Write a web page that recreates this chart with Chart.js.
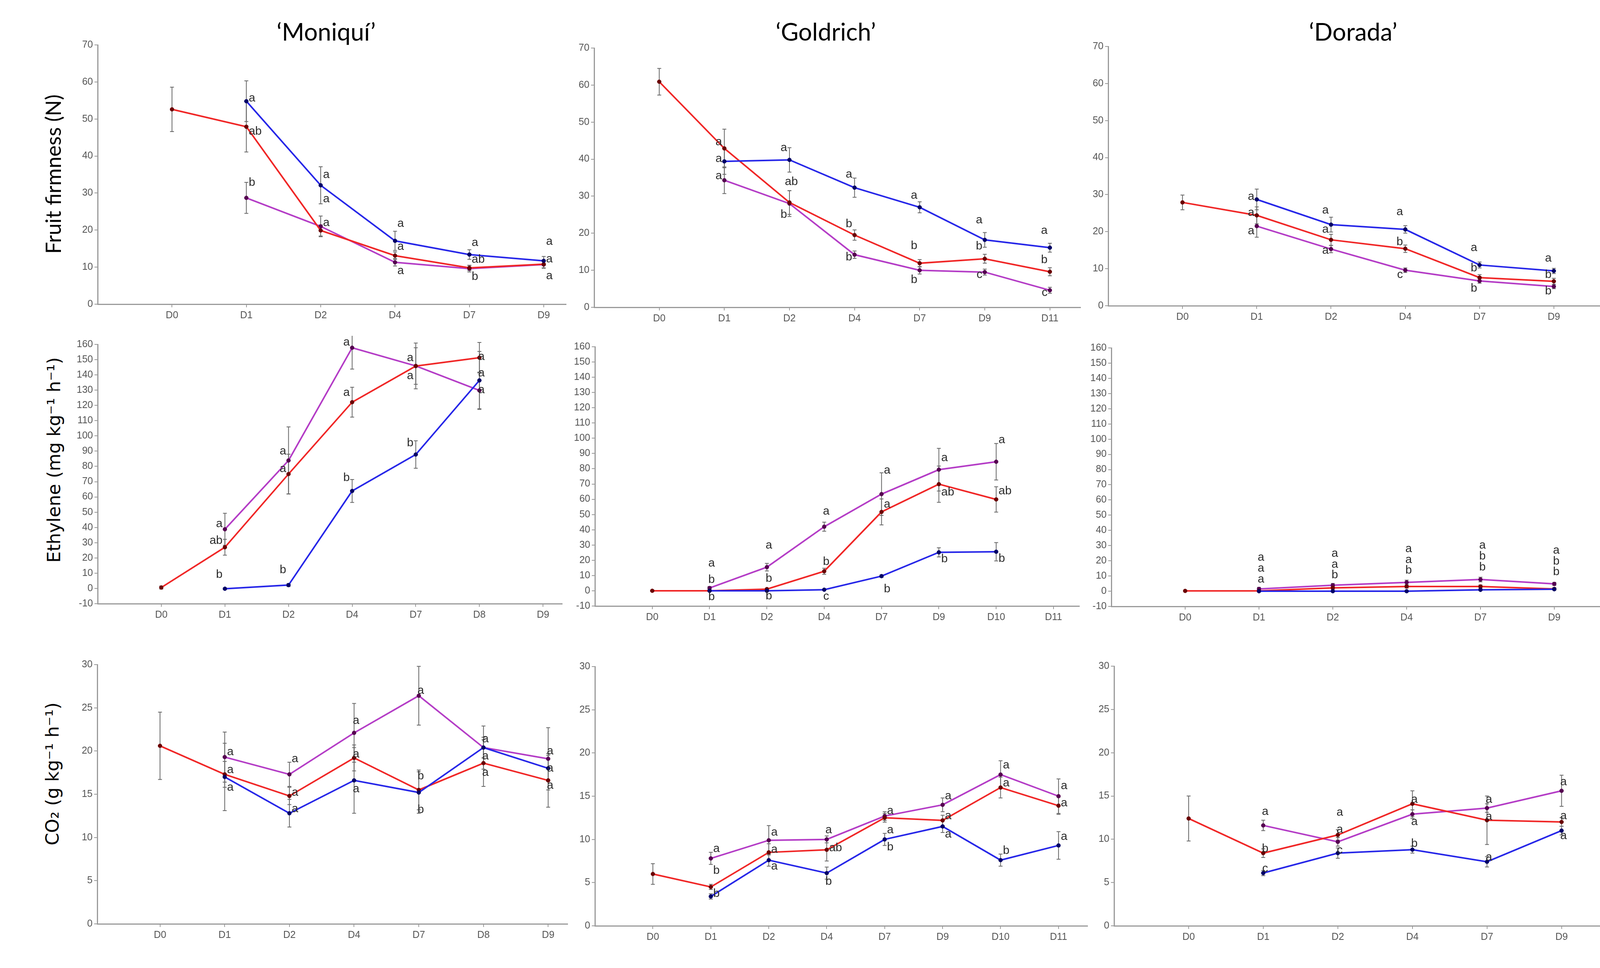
<!DOCTYPE html>
<html><head><meta charset="utf-8">
<script src="https://cdn.jsdelivr.net/npm/chart.js@4.4.1/dist/chart.umd.min.js"></script>
<style>
html,body{margin:0;padding:0;background:#fff;}
#wrap{position:relative;width:4253px;height:2479px;background:#fff;overflow:hidden;}
#wrap canvas{position:absolute;}
.ttl{position:absolute;transform:translate(-50%,-50%);font-family:Lato,'Open Sans',sans-serif;font-size:62px;color:#000;white-space:nowrap;line-height:1;}
.ytl{position:absolute;transform:translate(-50%,-50%) rotate(-90deg);white-space:nowrap;color:#000;line-height:1;}
</style></head><body><div id="wrap"></div>
<script>
// ---------------- DATA ----------------
const cultivars = ['\u2018Moniqu\u00ed\u2019', '\u2018Goldrich\u2019', '\u2018Dorada\u2019'];
const rowTitles = ['Fruit firmness (N)', 'Ethylene (mg kg\u207B\u00B9 h\u207B\u00B9)', 'CO\u2082 (g kg\u207B\u00B9 h\u207B\u00B9)'];

// Fruit firmness
const firmMoniquiDays = ['D0','D1','D2','D4','D7','D9'];
const firmMoniquiRed = [52.6, 47.9, 19.9, 13.1, 9.8, 10.8];
const firmMoniquiRedSE = [6.0, 6.8, 1.5, 1.0, 0.7, 1.0];
const firmMoniquiBlue = [null, 54.8, 32.1, 17.1, 13.4, 11.7];
const firmMoniquiBlueSE = [null, 5.5, 5.0, 2.6, 1.3, 1.2];
const firmMoniquiPurple = [null, 28.7, 21.0, 11.3, 9.6, 10.7];
const firmMoniquiPurpleSE = [null, 4.2, 2.8, 1.0, 0.9, 1.0];
const firmMoniquiLetters = [[1,55.6,'a','r'],[1,46.6,'ab','r'],[1,32.8,'b','r'],[2,34.9,'a','r'],[2,28.4,'a','r'],[2,22.0,'a','r'],[3,21.7,'a','r'],[3,15.5,'a','r'],[3,9.0,'a','r'],[4,16.6,'a','r'],[4,12.0,'ab','r'],[4,7.4,'b','r'],[5,16.9,'a','r'],[5,12.2,'a','r'],[5,7.6,'a','r']];

const firmGoldrichDays = ['D0','D1','D2','D4','D7','D9','D11'];
const firmGoldrichRed = [60.9, 42.9, 28.3, 19.5, 11.9, 13.1, 9.6];
const firmGoldrichRedSE = [3.6, 5.2, 3.2, 1.4, 1.0, 1.2, 1.1];
const firmGoldrichBlue = [null, 39.4, 39.8, 32.3, 27.0, 18.2, 16.1];
const firmGoldrichBlueSE = [null, 3.5, 3.3, 2.6, 1.5, 2.0, 1.2];
const firmGoldrichPurple = [null, 34.3, 28.0, 14.2, 10.0, 9.5, 4.6];
const firmGoldrichPurpleSE = [null, 3.6, 3.5, 1.0, 1.0, 0.8, 0.8];
const firmGoldrichLetters = [[1,44.6,'a','l'],[1,40.1,'a','l'],[1,35.4,'a','l'],[2,43.0,'a','l'],[2,33.9,'ab','c'],[2,25.0,'b','l'],[3,35.9,'a','l'],[3,22.5,'b','l'],[3,13.5,'b','l'],[4,30.2,'a','l'],[4,16.6,'b','l'],[4,7.4,'b','l'],[5,23.5,'a','l'],[5,16.5,'b','l'],[5,8.8,'c','l'],[6,20.7,'a','l'],[6,12.8,'b','l'],[6,3.9,'c','l']];

const firmDoradaDays = ['D0','D1','D2','D4','D7','D9'];
const firmDoradaRed = [27.9, 24.4, 17.8, 15.4, 7.6, 6.6];
const firmDoradaRedSE = [2.0, 2.3, 1.5, 1.0, 0.8, 0.8];
const firmDoradaBlue = [null, 28.7, 21.9, 20.6, 11.0, 9.4];
const firmDoradaBlueSE = [null, 2.8, 2.0, 1.0, 0.8, 0.7];
const firmDoradaPurple = [null, 21.5, 15.3, 9.6, 6.7, 5.2];
const firmDoradaPurpleSE = [null, 3.0, 1.0, 0.6, 0.6, 0.6];
const firmDoradaLetters = [[1,29.4,'a','l'],[1,25.1,'a','l'],[1,20.2,'a','l'],[2,25.8,'a','l'],[2,20.6,'a','l'],[2,14.9,'a','l'],[3,25.3,'a','l'],[3,17.2,'b','l'],[3,8.4,'c','l'],[4,15.6,'a','l'],[4,10.2,'b','l'],[4,4.7,'b','l'],[5,12.8,'a','l'],[5,8.4,'b','l'],[5,3.9,'b','l']];

// Ethylene
const ethMoniquiDays = ['D0','D1','D2','D4','D7','D8','D9'];
const ethMoniquiRed = [0.6, 27.0, 75.0, 122.1, 145.8, 151.3, null];
const ethMoniquiRedSE = [1.0, 5.2, 13.0, 9.8, 12.0, 10.0, null];
const ethMoniquiBlue = [null, -0.2, 2.2, 63.9, 87.8, 136.4, null];
const ethMoniquiBlueSE = [null, 0.5, 1.0, 7.5, 9.0, 19.0, null];
const ethMoniquiPurple = [null, 38.8, 83.9, 157.8, 145.9, 129.8, null];
const ethMoniquiPurpleSE = [null, 10.5, 22.0, 14.0, 15.0, 12.0, null];
const ethMoniquiLetters = [[1,42.3,'a','l'],[1,31.2,'ab','l'],[1,9.0,'b','l'],[2,89.8,'a','l'],[2,78.4,'a','l'],[2,12.0,'b','l'],[3,161.3,'a','l'],[3,128.4,'a','l'],[3,72.4,'b','l'],[4,151.0,'a','l'],[4,139.4,'a','l'],[4,95.4,'b','l'],[5,152.0,'a','c'],[5,141.0,'a','c'],[5,130.0,'a','c']];

const ethGoldrichDays = ['D0','D1','D2','D4','D7','D9','D10','D11'];
const ethGoldrichRed = [0.0, 0.0, 1.1, 12.8, 51.7, 69.9, 59.9, null];
const ethGoldrichRedSE = [0.5, 0.5, 0.5, 2.0, 8.5, 11.9, 8.3, null];
const ethGoldrichBlue = [null, 0.0, 0.0, 0.7, 9.6, 25.2, 25.6, null];
const ethGoldrichBlueSE = [null, 0.3, 0.3, 0.3, 0.8, 3.0, 6.0, null];
const ethGoldrichPurple = [null, 1.8, 15.5, 42.0, 63.4, 79.4, 84.6, null];
const ethGoldrichPurpleSE = [null, 1.0, 2.5, 3.0, 14.0, 14.0, 12.0, null];
const ethGoldrichLetters = [[1,18.1,'a','c'],[1,7.3,'b','c'],[1,-4.1,'b','c'],[2,29.8,'a','c'],[2,7.9,'b','c'],[2,-3.5,'b','c'],[3,52.0,'a','c'],[3,19.1,'b','c'],[3,-3.7,'c','c'],[4,78.8,'a','r'],[4,56.6,'a','r'],[4,1.1,'b','r'],[5,87.0,'a','r'],[5,64.6,'ab','r'],[5,20.7,'b','r'],[6,98.9,'a','r'],[6,65.3,'ab','r'],[6,21.1,'b','r']];

const ethDoradaDays = ['D0','D1','D2','D4','D7','D9'];
const ethDoradaRed = [0.2, 0.2, 2.2, 3.1, 3.1, 1.5];
const ethDoradaRedSE = [0.5, 0.5, 1.0, 1.0, 1.0, 0.8];
const ethDoradaBlue = [null, 0.0, 0.0, 0.0, 0.9, 1.3];
const ethDoradaBlueSE = [null, 0.3, 0.3, 0.3, 0.5, 0.5];
const ethDoradaPurple = [null, 1.5, 3.9, 5.8, 7.7, 4.8];
const ethDoradaPurpleSE = [null, 1.0, 1.2, 1.5, 1.5, 1.0];
const ethDoradaLetters = [[1,22.1,'a','c'],[1,14.9,'a','c'],[1,7.7,'a','c'],[2,24.8,'a','c'],[2,17.6,'a','c'],[2,10.7,'b','c'],[3,27.7,'a','c'],[3,20.5,'a','c'],[3,13.7,'b','c'],[4,30.1,'a','c'],[4,22.9,'b','c'],[4,15.7,'b','c'],[5,26.8,'a','c'],[5,19.6,'b','c'],[5,12.6,'b','c']];

// CO2
const co2MoniquiDays = ['D0','D1','D2','D4','D7','D8','D9'];
const co2MoniquiRed = [20.6, 17.3, 14.8, 19.2, 15.5, 18.6, 16.6];
const co2MoniquiRedSE = [3.9, 1.5, 1.0, 1.5, 2.3, 2.7, 3.1];
const co2MoniquiBlue = [null, 17.0, 12.8, 16.6, 15.2, 20.4, 18.0];
const co2MoniquiBlueSE = [null, 3.9, 1.6, 3.8, 2.4, 1.2, 1.5];
const co2MoniquiPurple = [null, 19.3, 17.3, 22.1, 26.4, 20.4, 19.1];
const co2MoniquiPurpleSE = [null, 2.9, 1.4, 3.4, 3.4, 2.5, 3.6];
const co2MoniquiLetters = [[1,19.9,'a','r'],[1,17.8,'a','r'],[1,15.8,'a','r'],[2,19.1,'a','r'],[2,15.2,'a','r'],[2,13.3,'a','r'],[3,23.5,'a','c'],[3,19.6,'a','c'],[3,15.6,'a','c'],[4,27.0,'a','c'],[4,17.1,'b','c'],[4,13.2,'b','c'],[5,21.4,'a','c'],[5,19.4,'a','c'],[5,17.5,'a','c'],[6,20.0,'a','c'],[6,18.0,'a','c'],[6,16.0,'a','c']];

const co2GoldrichDays = ['D0','D1','D2','D4','D7','D9','D10','D11'];
const co2GoldrichRed = [6.0, 4.5, 8.5, 8.8, 12.5, 12.2, 16.0, 13.9];
const co2GoldrichRedSE = [1.2, 0.3, 1.0, 1.3, 0.5, 0.6, 1.2, 1.0];
const co2GoldrichBlue = [null, 3.4, 7.6, 6.1, 10.0, 11.5, 7.6, 9.3];
const co2GoldrichBlueSE = [null, 0.3, 0.7, 0.7, 0.7, 0.7, 0.7, 1.6];
const co2GoldrichPurple = [null, 7.8, 9.9, 10.0, 12.7, 14.0, 17.5, 15.0];
const co2GoldrichPurpleSE = [null, 0.7, 1.7, 0.4, 0.5, 0.8, 1.6, 2.0];
const co2GoldrichLetters = [[1,8.9,'a','r'],[1,6.4,'b','r'],[1,3.7,'b','r'],[2,10.8,'a','r'],[2,8.8,'a','r'],[2,6.9,'a','r'],[3,11.1,'a','c'],[3,9.0,'ab','r'],[3,5.1,'b','c'],[4,13.3,'a','r'],[4,11.1,'a','r'],[4,9.1,'b','r'],[5,15.0,'a','r'],[5,12.7,'a','r'],[5,10.6,'a','r'],[6,18.6,'a','r'],[6,16.5,'a','r'],[6,8.7,'b','r'],[7,16.2,'a','r'],[7,14.2,'a','r'],[7,10.3,'a','r']];

const co2DoradaDays = ['D0','D1','D2','D4','D7','D9'];
const co2DoradaRed = [12.4, 8.4, 10.5, 14.1, 12.2, 12.0];
const co2DoradaRedSE = [2.6, 0.5, 0.6, 1.5, 2.8, 0.5];
const co2DoradaBlue = [null, 6.1, 8.4, 8.8, 7.4, 11.0];
const co2DoradaBlueSE = [null, 0.3, 0.6, 0.4, 0.6, 0.5];
const co2DoradaPurple = [null, 11.6, 9.7, 12.9, 13.6, 15.6];
const co2DoradaPurpleSE = [null, 0.6, 0.5, 0.5, 0.5, 1.8];
const co2DoradaLetters = [[1,13.2,'a','c'],[1,8.9,'b','c'],[1,6.6,'c','c'],[2,13.1,'a','c'],[2,11.1,'a','c'],[2,8.7,'c','c'],[3,14.6,'a','c'],[3,12.0,'a','c'],[3,9.5,'b','c'],[4,14.6,'a','c'],[4,12.6,'a','c'],[4,7.9,'a','c'],[5,16.6,'a','c'],[5,12.7,'a','c'],[5,10.4,'a','c']];

// -------------- LAYOUT / STYLE --------------
const YW = 70, XH = 60, PADT = 22, PADR = 12;
const RED = 'rgb(240,38,38)', BLUE = 'rgb(38,38,232)', PURPLE = 'rgb(180,60,198)';
const TICKFONT = {family: "'Liberation Sans', Arial, sans-serif", size: 25};
const TICKCOLOR = '#555';
const AXISCOLOR = '#9a9a9a';

const yRanges = [{min:0,max:70,step:10},{min:-10,max:160,step:10},{min:0,max:30,step:5}];

const panels = [
  {row:0, days:firmMoniquiDays, red:firmMoniquiRed, redSE:firmMoniquiRedSE, blue:firmMoniquiBlue, blueSE:firmMoniquiBlueSE, purple:firmMoniquiPurple, purpleSE:firmMoniquiPurpleSE, letters:firmMoniquiLetters, box:[250,1449,115,779], xmin:-1, xmax:5.3},
  {row:0, days:firmGoldrichDays, red:firmGoldrichRed, redSE:firmGoldrichRedSE, blue:firmGoldrichBlue, blueSE:firmGoldrichBlueSE, purple:firmGoldrichPurple, purpleSE:firmGoldrichPurpleSE, letters:firmGoldrichLetters, box:[1521,2766,123,787], xmin:-1, xmax:6.47},
  {row:0, days:firmDoradaDays, red:firmDoradaRed, redSE:firmDoradaRedSE, blue:firmDoradaBlue, blueSE:firmDoradaBlueSE, purple:firmDoradaPurple, purpleSE:firmDoradaPurpleSE, letters:firmDoradaLetters, box:[2837,4168,119,783], xmin:-1, xmax:6.0},
  {row:1, days:ethMoniquiDays, red:ethMoniquiRed, redSE:ethMoniquiRedSE, blue:ethMoniquiBlue, blueSE:ethMoniquiBlueSE, purple:ethMoniquiPurple, purpleSE:ethMoniquiPurpleSE, letters:ethMoniquiLetters, box:[250,1439,882,1546], xmin:-1, xmax:6.3},
  {row:1, days:ethGoldrichDays, red:ethGoldrichRed, redSE:ethGoldrichRedSE, blue:ethGoldrichBlue, blueSE:ethGoldrichBlueSE, purple:ethGoldrichPurple, purpleSE:ethGoldrichPurpleSE, letters:ethGoldrichLetters, box:[1523,2763,888,1552], xmin:-1, xmax:7.45},
  {row:1, days:ethDoradaDays, red:ethDoradaRed, redSE:ethDoradaRedSE, blue:ethDoradaBlue, blueSE:ethDoradaBlueSE, purple:ethDoradaPurple, purpleSE:ethDoradaPurpleSE, letters:ethDoradaLetters, box:[2845,4168,891,1553], xmin:-1, xmax:6.0},
  {row:2, days:co2MoniquiDays, red:co2MoniquiRed, redSE:co2MoniquiRedSE, blue:co2MoniquiBlue, blueSE:co2MoniquiBlueSE, purple:co2MoniquiPurple, purpleSE:co2MoniquiPurpleSE, letters:co2MoniquiLetters, box:[249,1453,1702,2366], xmin:-0.97, xmax:6.3},
  {row:2, days:co2GoldrichDays, red:co2GoldrichRed, redSE:co2GoldrichRedSE, blue:co2GoldrichBlue, blueSE:co2GoldrichBlueSE, purple:co2GoldrichPurple, purpleSE:co2GoldrichPurpleSE, letters:co2GoldrichLetters, box:[1523,2784,1707,2371], xmin:-1, xmax:7.5},
  {row:2, days:co2DoradaDays, red:co2DoradaRed, redSE:co2DoradaRedSE, blue:co2DoradaBlue, blueSE:co2DoradaBlueSE, purple:co2DoradaPurple, purpleSE:co2DoradaPurpleSE, letters:co2DoradaLetters, box:[2852,4179,1706,2371], xmin:-1, xmax:5.95}
];

const titlePos = [[835,80],[2114,80],[3464,80]];
const rowTitlePos = [{x:136,y:446,font:"Lato, 'Open Sans', sans-serif",size:54},{x:138,y:1178,font:"'DejaVu Sans', sans-serif",size:46},{x:134,y:1982,font:"'DejaVu Sans', sans-serif",size:46}];

const wrap = document.getElementById('wrap');

cultivars.forEach((t,i)=>{
  const d = document.createElement('div');
  d.className='ttl'; d.textContent=t;
  d.style.left = titlePos[i][0]+'px'; d.style.top = titlePos[i][1]+'px';
  wrap.appendChild(d);
});
rowTitles.forEach((t,i)=>{
  const d = document.createElement('div');
  d.className='ytl'; d.textContent=t;
  const p = rowTitlePos[i];
  d.style.left = p.x+'px'; d.style.top = p.y+'px';
  d.style.fontFamily = p.font; d.style.fontSize = p.size+'px';
  wrap.appendChild(d);
});

const errPlugin = {
  id:'errbars',
  beforeDatasetsDraw(chart){
    const ctx = chart.ctx, ys = chart.scales.y;
    ctx.save(); ctx.strokeStyle='#666'; ctx.lineWidth=2;
    chart.data.datasets.forEach((ds,di)=>{
      const meta = chart.getDatasetMeta(di);
      ds.data.forEach((pt,j)=>{
        if (pt.e == null) return;
        const el = meta.data[j]; if (!el) return;
        const x = el.x;
        const y1 = ys.getPixelForValue(pt.y + pt.e), y2 = ys.getPixelForValue(pt.y - pt.e);
        ctx.beginPath();
        ctx.moveTo(x,y1); ctx.lineTo(x,y2);
        ctx.moveTo(x-5,y1); ctx.lineTo(x+5,y1);
        ctx.moveTo(x-5,y2); ctx.lineTo(x+5,y2);
        ctx.stroke();
      });
    });
    ctx.restore();
  }
};

function series(vals, se){
  const out = [];
  vals.forEach((v,i)=>{ if (v !== null) out.push({x:i, y:v, e: se[i]}); });
  return out;
}

panels.forEach((p)=>{
  const [L,R,T,B] = p.box;
  const W = (R-L) + YW + PADR, H = (B-T) + PADT + XH;
  const cv = document.createElement('canvas');
  cv.width = W; cv.height = H;
  cv.style.left = (L-YW)+'px'; cv.style.top = (T-PADT)+'px';
  cv.style.width = W+'px'; cv.style.height = H+'px';
  wrap.appendChild(cv);
  const n = p.days.length;
  const yr = yRanges[p.row];
  const letterPlugin = {
    id:'sigletters',
    afterDatasetsDraw(chart){
      const ctx = chart.ctx, xs = chart.scales.x, ys = chart.scales.y;
      ctx.save();
      ctx.font = "30px 'Liberation Sans', Arial, sans-serif";
      ctx.fillStyle = '#2a2a2a';
      ctx.textBaseline = 'middle';
      p.letters.forEach(([i,y,t,side])=>{
        const px = xs.getPixelForValue(i), py = ys.getPixelForValue(y);
        if (side==='r'){ ctx.textAlign='left'; ctx.fillText(t, px+6, py); }
        else if (side==='l'){ ctx.textAlign='right'; ctx.fillText(t, px-6, py); }
        else { ctx.textAlign='center'; ctx.fillText(t, px+5, py); }
      });
      ctx.restore();
    }
  };
  const ds = (label, vals, se, color, dark) => ({
    label, data: series(vals, se), borderColor: color, backgroundColor: color,
    borderWidth: 4, pointRadius: 5, pointBackgroundColor: dark, pointBorderColor: dark,
    pointBorderWidth: 1, tension: 0, fill: false
  });
  new Chart(cv, {
    type:'line',
    data:{datasets:[
      ds('Blue treatment', p.blue, p.blueSE, BLUE, '#000066'),
      ds('Red treatment', p.red, p.redSE, RED, '#6a0000'),
      ds('Purple treatment', p.purple, p.purpleSE, PURPLE, '#550050')
    ]},
    options:{
      responsive:false, animation:false, devicePixelRatio:1,
      layout:{padding:{top:PADT, right:PADR, left:0, bottom:0}},
      plugins:{legend:{display:false}, tooltip:{enabled:false}, title:{display:false}},
      scales:{
        x:{
          type:'linear', min:p.xmin, max:p.xmax,
          afterBuildTicks:(s)=>{ s.ticks = p.days.map((d,i)=>({value:i})); },
          afterFit:(s)=>{ s.height = XH; },
          ticks:{stepSize:1, autoSkip:false, includeBounds:false, maxRotation:0, minRotation:0, padding:6, font:TICKFONT, color:TICKCOLOR, callback:(v)=>p.days[v]},
          grid:{drawOnChartArea:false, drawTicks:true, tickLength:8, color:AXISCOLOR, lineWidth:2},
          border:{color:AXISCOLOR, width:3}
        },
        y:{
          type:'linear', min:yr.min, max:yr.max,
          afterFit:(s)=>{ s.width = YW; },
          ticks:{stepSize:yr.step, padding:4, font:TICKFONT, color:TICKCOLOR},
          grid:{drawOnChartArea:false, drawTicks:true, tickLength:8, color:AXISCOLOR, lineWidth:2},
          border:{color:AXISCOLOR, width:3}
        }
      }
    },
    plugins:[errPlugin, letterPlugin]
  });
});
</script></body></html>
